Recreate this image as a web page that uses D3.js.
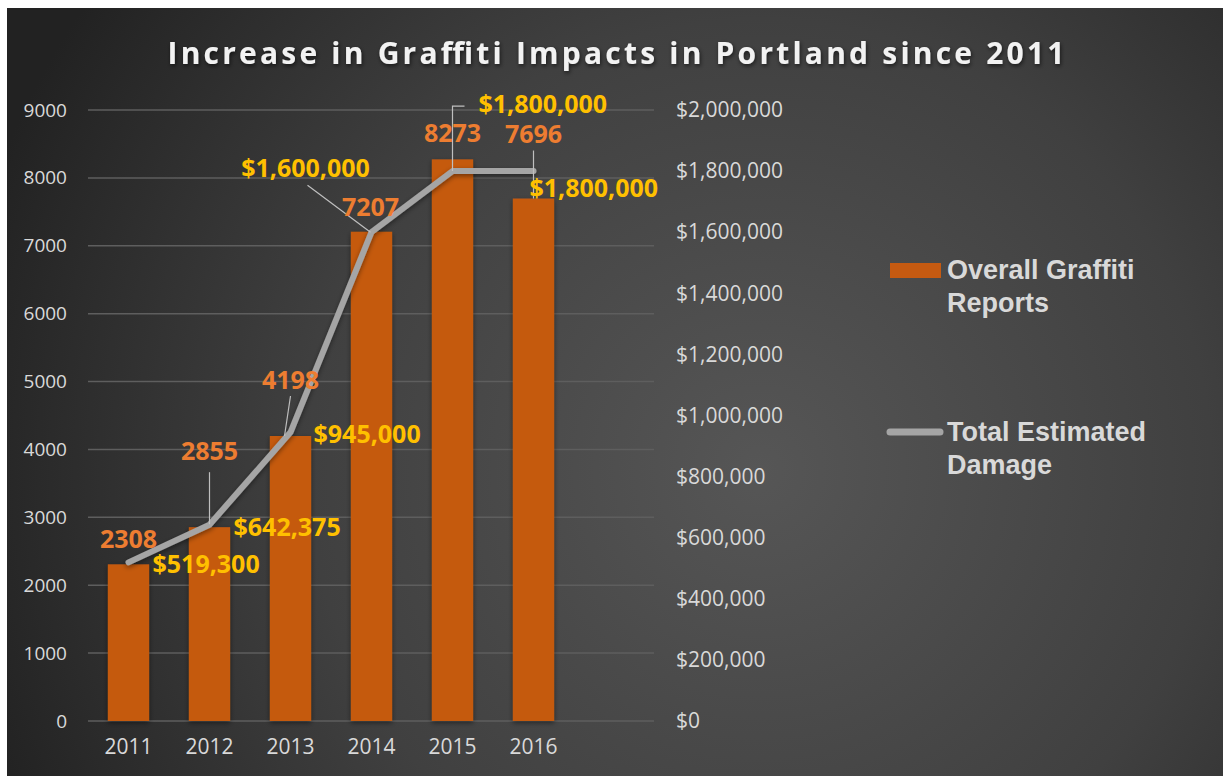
<html>
<head>
	<title>Graffiti Impacts in Portland</title>
	<style>
		body { margin: 0; background: #ffffff; }
		.tick text { fill: #d9d9d9; font-family: "Open Sans", sans-serif; }
	</style>
	<script type="text/javascript" src="https://d3js.org/d3.v7.min.js"></script>
</head>
<body>
<svg width="1223" height="776"></svg>
<script>

	// chart data
	var years = ["2011", "2012", "2013", "2014", "2015", "2016"];
	var reports = [2308, 2855, 4198, 7207, 8273, 7696];
	var damage = [519300, 642375, 945000, 1600000, 1800000, 1800000];
	var leftTicks = [0, 1000, 2000, 3000, 4000, 5000, 6000, 7000, 8000, 9000];
	var rightTicks = [0, 200000, 400000, 600000, 800000, 1000000, 1200000, 1400000, 1600000, 1800000, 2000000];

	var data = years.map(function(y, i) {
		return { year: y, reports: reports[i], damage: damage[i] };
	});

	var svg = d3.select("svg");
	var defs = svg.append("defs");

	var grad = defs.append("radialGradient")
		.attr("id", "bg")
		.attr("gradientUnits", "userSpaceOnUse")
		.attr("cx", 760).attr("cy", 470).attr("r", 820);
	grad.append("stop").attr("offset", "0%").attr("stop-color", "#565656");
	grad.append("stop").attr("offset", "55%").attr("stop-color", "#404040");
	grad.append("stop").attr("offset", "100%").attr("stop-color", "#222222");

	var shadow = defs.append("filter").attr("id", "shadow")
		.attr("x", "-20%").attr("y", "-20%").attr("width", "140%").attr("height", "140%");
	shadow.append("feDropShadow")
		.attr("dx", 0).attr("dy", 2).attr("stdDeviation", 2.5)
		.attr("flood-color", "#000").attr("flood-opacity", 0.45);

	var tshadow = defs.append("filter").attr("id", "tshadow");
	tshadow.append("feDropShadow")
		.attr("dx", 1).attr("dy", 2).attr("stdDeviation", 2)
		.attr("flood-color", "#000").attr("flood-opacity", 0.6);

	svg.append("rect")
		.attr("x", 7).attr("y", 8)
		.attr("width", 1216).attr("height", 768)
		.attr("fill", "url(#bg)");

	// title
	svg.append("text")
		.attr("x", 616).attr("y", 64)
		.attr("text-anchor", "middle")
		.attr("font-family", "Open Sans, sans-serif")
		.attr("font-weight", "bold")
		.attr("font-size", "30px")
		.attr("fill", "#f2f2f2")
		.attr("textLength", 897)
		.attr("lengthAdjust", "spacing")
		.attr("filter", "url(#tshadow)")
		.text("Increase in Graffiti Impacts in Portland since 2011");

	var xScale = d3.scaleBand().domain(years).range([88, 574]).paddingInner(0.49).paddingOuter(0.245);
	var yLeft = d3.scaleLinear().domain([0, 9000]).range([721, 110]);
	var yRight = d3.scaleLinear().domain([0, 2000000]).range([721, 110]);

	// gridlines
	svg.append("g").selectAll("line")
		.data(leftTicks)
		.enter().append("line")
		.attr("x1", 88).attr("x2", 654)
		.attr("y1", function(d) { return yLeft(d); })
		.attr("y2", function(d) { return yLeft(d); })
		.attr("stroke", "#5e5e5e")
		.attr("stroke-width", 1.5);

	// axes
	var leftAxis = svg.append("g")
		.attr("transform", "translate(88,0)")
		.call(d3.axisLeft(yLeft).tickValues(leftTicks).tickSize(0).tickPadding(21)
			.tickFormat(function(d) { return d; }));
	leftAxis.select(".domain").remove();
	leftAxis.selectAll("text").attr("font-size", "19px");

	var rightAxis = svg.append("g")
		.attr("transform", "translate(654,0)")
		.call(d3.axisRight(yRight).tickValues(rightTicks).tickSize(0).tickPadding(22)
			.tickFormat(function(d) { return "$" + d3.format(",")(d); }));
	rightAxis.select(".domain").remove();
	rightAxis.selectAll("text").attr("font-size", "21px");

	var bottomAxis = svg.append("g")
		.attr("transform", "translate(0,721)")
		.call(d3.axisBottom(xScale).tickSize(0).tickPadding(18));
	bottomAxis.select(".domain").remove();
	bottomAxis.selectAll("text").attr("font-size", "21px");

	// bars
	svg.append("g").selectAll(".bar")
		.data(data)
		.enter().append("rect")
		.attr("class", "bar")
		.attr("x", function(d) { return xScale(d.year); })
		.attr("y", function(d) { return yLeft(d.reports); })
		.attr("width", xScale.bandwidth())
		.attr("height", function(d) { return yLeft(0) - yLeft(d.reports); })
		.attr("fill", "#c55a11")
		.attr("filter", "url(#shadow)");

	// line
	var line = d3.line()
		.x(function(d) { return xScale(d.year) + xScale.bandwidth() / 2; })
		.y(function(d) { return yRight(d.damage); });

	svg.append("path")
		.datum(data)
		.attr("d", line)
		.attr("fill", "none")
		.attr("stroke", "#a5a5a5")
		.attr("stroke-width", 6)
		.attr("stroke-linecap", "round")
		.attr("stroke-linejoin", "round")
		.attr("filter", "url(#shadow)");

	var cx = function(i) { return xScale(years[i]) + xScale.bandwidth() / 2; };

	// leader lines
	var leaders = [
		[[cx(1), yLeft(reports[1]) - 3], [cx(1), yLeft(reports[1]) - 55]],
		[[cx(2) - 6, yLeft(reports[2])], [cx(2), yLeft(reports[2]) - 40]],
		[[cx(3) - 1, yRight(damage[3])], [cx(3) - 64, yRight(damage[3]) - 47]],
		[[cx(4), yRight(damage[4])], [cx(4), yRight(damage[4]) - 65], [cx(4) + 12, yRight(damage[4]) - 65]],
		[[cx(5), yLeft(reports[5])], [cx(5), yLeft(reports[5]) - 48]]
	];
	svg.append("g").selectAll("path")
		.data(leaders)
		.enter().append("path")
		.attr("d", d3.line())
		.attr("fill", "none")
		.attr("stroke", "#bfbfbf")
		.attr("stroke-width", 1.2);

	// bar labels (offsets from each bar top)
	var repOff = [[0, -16], [0, -67], [0, -47], [-1, -16], [0, -17], [0, -56]];
	svg.append("g").selectAll("text")
		.data(data)
		.enter().append("text")
		.attr("x", function(d, i) { return cx(i) + repOff[i][0]; })
		.attr("y", function(d, i) { return yLeft(d.reports) + repOff[i][1]; })
		.attr("text-anchor", "middle")
		.attr("font-family", "Open Sans, sans-serif")
		.attr("font-weight", "bold")
		.attr("font-size", "25px")
		.attr("fill", "#ed7d31")
		.text(function(d) { return d.reports; });

	// line labels
	var dmgOff = [[24, 11, "start"], [24, 11, "start"], [23, 11, "start"], [-66, -55, "middle"], [26, -58, "start"], [-4, 26, "start"]];
	svg.append("g").selectAll("text")
		.data(data)
		.enter().append("text")
		.attr("x", function(d, i) { return cx(i) + dmgOff[i][0]; })
		.attr("y", function(d, i) { return yRight(d.damage) + dmgOff[i][1]; })
		.attr("text-anchor", function(d, i) { return dmgOff[i][2]; })
		.attr("font-family", "Open Sans, sans-serif")
		.attr("font-weight", "bold")
		.attr("font-size", "25px")
		.attr("fill", "#ffc000")
		.text(function(d) { return "$" + d3.format(",")(d.damage); });

	// legend
	var legend = svg.append("g").attr("font-family", "Liberation Sans, Arial, sans-serif")
		.attr("font-weight", "bold").attr("font-size", "27px").attr("fill", "#d9d9d9");

	legend.append("rect")
		.attr("x", 890).attr("y", 263).attr("width", 51).attr("height", 15)
		.attr("fill", "#c55a11");
	legend.append("text").attr("x", 947).attr("y", 279).text("Overall Graffiti");
	legend.append("text").attr("x", 947).attr("y", 312).text("Reports");

	legend.append("line")
		.attr("x1", 890).attr("x2", 940).attr("y1", 432).attr("y2", 432)
		.attr("stroke", "#a5a5a5").attr("stroke-width", 7).attr("stroke-linecap", "round");
	legend.append("text").attr("x", 947).attr("y", 441).text("Total Estimated");
	legend.append("text").attr("x", 947).attr("y", 474).text("Damage");

</script>
</body>
</html>
